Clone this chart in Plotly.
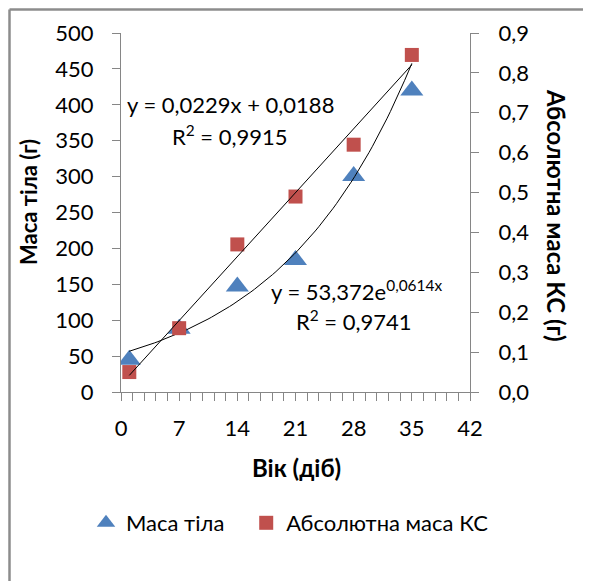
import numpy as np
import plotly.graph_objects as go

# ---- data ----
age_days = [1, 7, 14, 21, 28, 35]
body_mass = [45, 88, 147, 184, 301, 420]             # left axis (g)
abs_mass_ks = [0.05, 0.16, 0.37, 0.49, 0.62, 0.845]  # right axis (g)

series_names = ["Маса тіла", "Абсолютна маса КС"]

x_ticks = [0, 7, 14, 21, 28, 35, 42]
y_left_ticks = [0, 50, 100, 150, 200, 250, 300, 350, 400, 450, 500]
y_right_ticks = [0.0, 0.1, 0.2, 0.3, 0.4, 0.5, 0.6, 0.7, 0.8, 0.9]

# trendline coefficients shown on the chart
lin_a, lin_b = 0.0229, 0.0188
exp_a, exp_b = 53.372, 0.0614

FONT = "Lato"
FS = 22
AXC = "#868686"

xs = np.linspace(min(age_days), max(age_days), 80)
lin_y = lin_a * xs + lin_b
exp_y = exp_a * np.exp(exp_b * xs)

fig = go.Figure()
fig.add_trace(go.Scatter(x=age_days, y=body_mass, mode="markers",
                         name=series_names[0] + "\u00a0\u00a0\u00a0",
                         marker=dict(symbol="triangle-up", size=20, color="#4F81BD"),
                         yaxis="y"))
fig.add_trace(go.Scatter(x=age_days, y=abs_mass_ks, mode="markers", name=series_names[1],
                         marker=dict(symbol="square", size=14, color="#C0504D"),
                         yaxis="y2"))
fig.add_trace(go.Scatter(x=xs, y=exp_y, mode="lines", line=dict(color="black", width=1),
                         showlegend=False, yaxis="y", hoverinfo="skip"))
fig.add_trace(go.Scatter(x=xs, y=lin_y, mode="lines", line=dict(color="black", width=1),
                         showlegend=False, yaxis="y2", hoverinfo="skip"))

# page has an 8px body margin: shift everything by -8
OFF = 8
L, T, PW, PH = 121 - OFF, 33 - OFF, 349, 359
FW, FH = 591 - OFF, 581 - OFF

def px(xpix):
    return (xpix - 121) / PW
def py(ypix):
    return (392 - ypix) / PH

fig.update_layout(
    width=FW, height=FH,
    margin=dict(l=L, r=FW - L - PW, t=T, b=FH - T - PH),
    paper_bgcolor="white", plot_bgcolor="white",
    font=dict(family=FONT, size=FS, color="black"),
    showlegend=True,
    legend=dict(orientation="h", x=px(86), xanchor="left", y=py(523), yanchor="middle",
                font=dict(family=FONT, size=FS), itemwidth=30, tracegroupgap=0,
                bgcolor="rgba(0,0,0,0)"),
    xaxis=dict(range=[0, 42], tickvals=x_ticks, ticktext=[str(v) for v in x_ticks],
               showgrid=False, zeroline=False, showline=True, linecolor=AXC, linewidth=1,
               ticks="outside", ticklen=8, tickcolor=AXC, ticklabelstandoff=9,
               minor=dict(dtick=1.4, ticks="outside", ticklen=8, tickcolor=AXC, showgrid=False)),
    yaxis=dict(range=[0, 500], tickvals=y_left_ticks, ticktext=[str(v) for v in y_left_ticks],
               showgrid=False, zeroline=False, showline=True, linecolor=AXC, linewidth=1,
               ticks="outside", ticklen=8, tickcolor=AXC, ticklabelstandoff=14),
    yaxis2=dict(range=[0, 0.9], overlaying="y", side="right", tickvals=y_right_ticks,
                ticktext=[f"{v:.1f}".replace(".", ",") for v in y_right_ticks],
                showgrid=False, zeroline=False, showline=True, linecolor=AXC, linewidth=1,
                ticks="outside", ticklen=8, tickcolor=AXC, ticklabelstandoff=15),
)

ann = [
    dict(text="<b>Маса тіла (г)</b>", x=px(28), y=py(202), textangle=-90, font=dict(size=22)),
    dict(text="<b>Абсолютна маса КС (г)</b>", x=px(557), y=py(215), textangle=90, font=dict(size=24)),
    dict(text="<b>Вік (діб)</b>", x=px(296), y=py(467), font=dict(size=24)),
    dict(text="y = 0,0229x + 0,0188", x=px(230), y=py(104), font=dict(size=FS)),
    dict(text="R<sup>2</sup> = 0,9915", x=px(230), y=py(135), font=dict(size=FS)),
    dict(text="y = 53,372e<sup>0,0614x</sup>", x=px(356), y=py(290), font=dict(size=FS)),
    dict(text="R<sup>2</sup> = 0,9741", x=px(354), y=py(320), font=dict(size=FS)),
]
for a in ann:
    a.update(xref="paper", yref="paper", showarrow=False, xanchor="center", yanchor="middle")
fig.update_layout(annotations=ann)

# outer chart frame (left and top edges visible)
fig.add_shape(type="line", xref="paper", yref="paper", x0=px(9.5), x1=px(9.5), y0=py(600), y1=py(9.5),
              line=dict(color="#8c8c8c", width=2.5))
fig.add_shape(type="line", xref="paper", yref="paper", x0=px(9.5), x1=px(600), y0=py(9.5), y1=py(9.5),
              line=dict(color="#8c8c8c", width=2.5))

fig.write_html("out.html")
